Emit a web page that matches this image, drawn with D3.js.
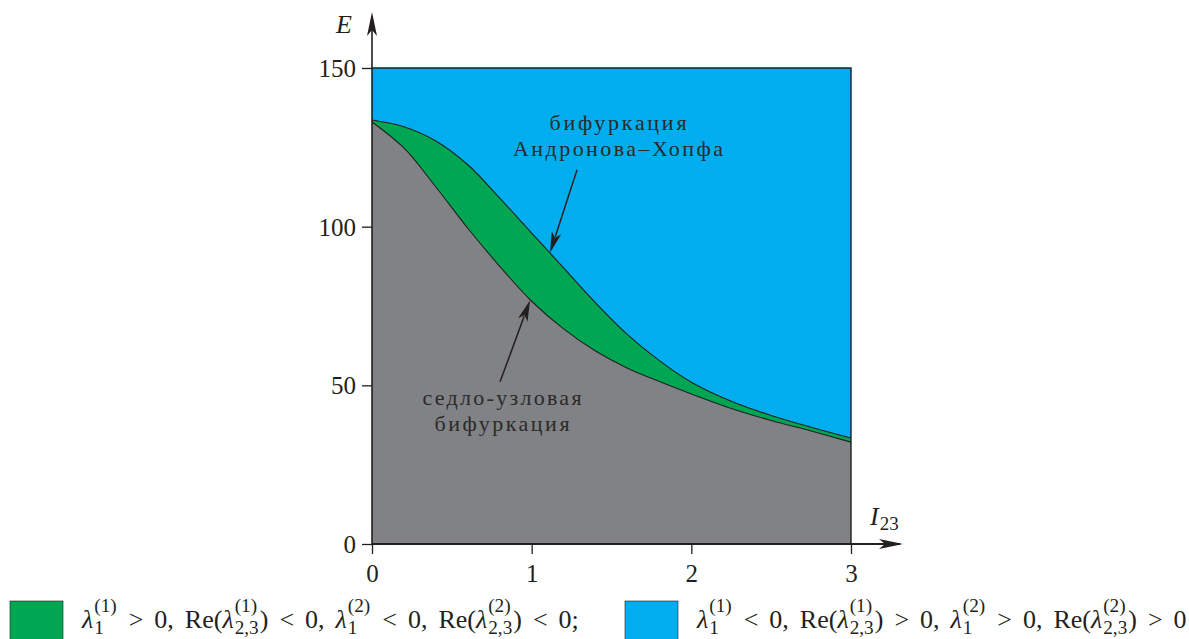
<!DOCTYPE html>
<html>
<head>
<meta charset="utf-8">
<script src="https://cdn.jsdelivr.net/npm/d3@7"></script>
<style>
  html, body { margin: 0; padding: 0; background: #fff; }
  svg { display: block; }
  text { white-space: pre; }
</style>
</head>
<body>
<svg id="chart" width="1189" height="639"></svg>
<script>
const current = [0, 0.2, 0.4, 0.6, 0.8, 1.0, 1.2, 1.4, 1.6, 1.8, 2.0, 2.25, 2.5, 2.75, 3.0];
// Andronov-Hopf bifurcation curve (upper boundary of green band)
const hopf = [133.6, 131.5, 127, 119.5, 109, 98, 87, 76, 66, 57.8, 51, 45, 40.5, 36.8, 33.4];
// saddle-node bifurcation curve (lower boundary of green band)
const saddleNode = [133.0, 124.8, 112.5, 99.5, 87.5, 76.5, 67.8, 60.8, 55.4, 51.2, 47.3, 42.7, 38.9, 35.6, 32.1];

const xTicks = [0, 1, 2, 3];
const yTicks = [0, 50, 100, 150];
const xMax = 3;
const yMax = 150;

const hopfLabel = ['бифуркация', 'Андронова–Хопфа'];
const saddleLabel = ['седло-узловая', 'бифуркация'];

// legend: strings are plain text, {sup, sub} are stacked indices after λ
const legendGreen = ['λ', {sup: '(1)', sub: '1'}, ' > 0, Re(', 'λ', {sup: '(1)', sub: '2,3'}, ') < 0, ',
  'λ', {sup: '(2)', sub: '1'}, ' < 0, Re(', 'λ', {sup: '(2)', sub: '2,3'}, ') < 0;'];
const legendBlue = ['λ', {sup: '(1)', sub: '1'}, ' < 0, Re(', 'λ', {sup: '(1)', sub: '2,3'}, ') > 0, ',
  'λ', {sup: '(2)', sub: '1'}, ' > 0, Re(', 'λ', {sup: '(2)', sub: '2,3'}, ') > 0'];

const colors = {
  blue: '#00aeef',
  green: '#00a651',
  gray: '#808285',
  ink: '#231f20'
};
const font = 'Liberation Serif, Times New Roman, serif';

const svg = d3.select('#chart');

const x = d3.scaleLinear().domain([0, xMax]).range([372, 851]);
const y = d3.scaleLinear().domain([0, yMax]).range([544, 68]);

const pts = current.map((c, i) => ({x: c, hi: hopf[i], lo: saddleNode[i]}));
const curve = d3.curveCatmullRom.alpha(0.5);

// regions
svg.append('rect')
  .attr('x', x(0)).attr('y', y(yMax))
  .attr('width', x(xMax) - x(0)).attr('height', y(0) - y(yMax))
  .attr('fill', colors.blue);

svg.append('path')
  .datum(pts)
  .attr('fill', colors.green)
  .attr('d', d3.area().x(d => x(d.x)).y0(d => y(d.lo)).y1(d => y(d.hi)).curve(curve));

svg.append('path')
  .datum(pts)
  .attr('fill', colors.gray)
  .attr('d', d3.area().x(d => x(d.x)).y0(y(0)).y1(d => y(d.lo)).curve(curve));

// boundary curves
[d => d.hi, d => d.lo].forEach(acc => {
  svg.append('path')
    .datum(pts)
    .attr('fill', 'none')
    .attr('stroke', colors.ink)
    .attr('stroke-width', 1.1)
    .attr('d', d3.line().x(d => x(d.x)).y(d => y(acc(d))).curve(curve));
});

// frame on top and right
svg.append('path')
  .attr('d', `M${x(0)},${y(yMax)}H${x(xMax)}V${y(0)}`)
  .attr('fill', 'none')
  .attr('stroke', colors.ink)
  .attr('stroke-width', 1.4);

// axes
const xAxis = svg.append('g')
  .attr('transform', `translate(0,${y(0)})`)
  .call(d3.axisBottom(x).tickValues(xTicks).tickFormat(d3.format('d')).tickSize(10).tickPadding(10));
const yAxis = svg.append('g')
  .attr('transform', `translate(${x(0)},0)`)
  .call(d3.axisLeft(y).tickValues(yTicks).tickFormat(d3.format('d')).tickSize(10).tickPadding(6));

[xAxis, yAxis].forEach(g => {
  g.select('.domain').remove();
  g.selectAll('.tick line').attr('stroke', colors.ink).attr('stroke-width', 1.3);
  g.selectAll('.tick text')
    .attr('fill', colors.ink)
    .attr('font-family', font)
    .attr('font-size', 25);
});
yAxis.selectAll('.tick text').attr('dy', '0.34em');

// axis lines with arrows
function arrowHead(tx, ty, angle, len, half) {
  const c = Math.cos(angle), s = Math.sin(angle);
  const bx = tx - c * len, by = ty - s * len;
  const nx = -s, ny = c;
  const mx = tx - c * len * 0.75, my = ty - s * len * 0.75;
  return `M${tx},${ty}L${bx + nx * half},${by + ny * half}L${mx},${my}L${bx - nx * half},${by - ny * half}Z`;
}

svg.append('line')
  .attr('x1', x(0)).attr('y1', y(0)).attr('x2', 900).attr('y2', y(0))
  .attr('stroke', colors.ink).attr('stroke-width', 2);
svg.append('path').attr('d', arrowHead(903, y(0), 0, 24, 5)).attr('fill', colors.ink);

svg.append('line')
  .attr('x1', x(0)).attr('y1', y(0)).attr('x2', x(0)).attr('y2', 16)
  .attr('stroke', colors.ink).attr('stroke-width', 1.6);
svg.append('path').attr('d', arrowHead(x(0), 12, -Math.PI / 2, 24, 5)).attr('fill', colors.ink);

// axis titles
svg.append('text')
  .attr('x', 336).attr('y', 33)
  .attr('font-family', font).attr('font-style', 'italic').attr('font-size', 26)
  .attr('fill', colors.ink).text('E');

const iLabel = svg.append('text')
  .attr('x', 870).attr('y', 525)
  .attr('font-family', font).attr('font-size', 26)
  .attr('fill', colors.ink);
iLabel.append('tspan').attr('font-style', 'italic').text('I');
iLabel.append('tspan').attr('font-size', 19).attr('dy', 5).attr('dx', 1).text('23');

// annotations: narrow serif glyphs spread out to the printed line widths
function label(lines, widths, cx, baseline, step) {
  lines.forEach((s, i) => {
    svg.append('text')
      .attr('x', cx).attr('y', baseline + i * step)
      .attr('text-anchor', 'middle')
      .attr('font-family', font).attr('font-size', 22)
      .attr('textLength', widths[i]).attr('lengthAdjust', 'spacing')
      .attr('fill', '#2b2a29')
      .text(s);
  });
}
label(hopfLabel, [137, 210], 618, 130, 26);
label(saddleLabel, [159, 135], 502, 405, 25.5);

function pointer(x0, y0, x1, y1) {
  const ang = Math.atan2(y1 - y0, x1 - x0);
  const len = 21;
  svg.append('line')
    .attr('x1', x0).attr('y1', y0)
    .attr('x2', x1 - Math.cos(ang) * len * 0.8).attr('y2', y1 - Math.sin(ang) * len * 0.8)
    .attr('stroke', colors.ink).attr('stroke-width', 1.5);
  svg.append('path').attr('d', arrowHead(x1, y1, ang, len, 5)).attr('fill', colors.ink);
}
pointer(x(1.284), y(117.9), x(1.115), y(91.8));
pointer(x(0.802), y(51.1), x(0.99), y(76.8));

// legend
function mathLine(g, x0, y0, parts, size) {
  let cx = x0;
  parts.forEach(p => {
    if (typeof p === 'string') {
      const t = g.append('text')
        .attr('x', cx).attr('y', y0)
        .attr('font-size', size)
        .attr('word-spacing', 4.5)
        .attr('font-style', p === 'λ' ? 'italic' : 'normal')
        .text(p);
      cx += t.node().getComputedTextLength();
    } else {
      const sup = g.append('text')
        .attr('x', cx + 1).attr('y', y0 - size * 0.6)
        .attr('font-size', size * 0.74).text(p.sup);
      const sub = g.append('text')
        .attr('x', cx + 1).attr('y', y0 + size * 0.24)
        .attr('font-size', size * 0.74).text(p.sub);
      cx += Math.max(sup.node().getComputedTextLength(), sub.node().getComputedTextLength()) + 2;
    }
  });
  return cx;
}

const legend = svg.append('g')
  .attr('font-family', font)
  .attr('fill', colors.ink);

legend.append('rect').attr('x', 10).attr('y', 601).attr('width', 53).attr('height', 45)
  .attr('fill', colors.green).attr('stroke', colors.ink).attr('stroke-width', 0.6);
mathLine(legend, 82, 628, legendGreen, 26);

legend.append('rect').attr('x', 625).attr('y', 601).attr('width', 53).attr('height', 45)
  .attr('fill', colors.blue).attr('stroke', colors.ink).attr('stroke-width', 0.6);
mathLine(legend, 697, 628, legendBlue, 26);
</script>
</body>
</html>
